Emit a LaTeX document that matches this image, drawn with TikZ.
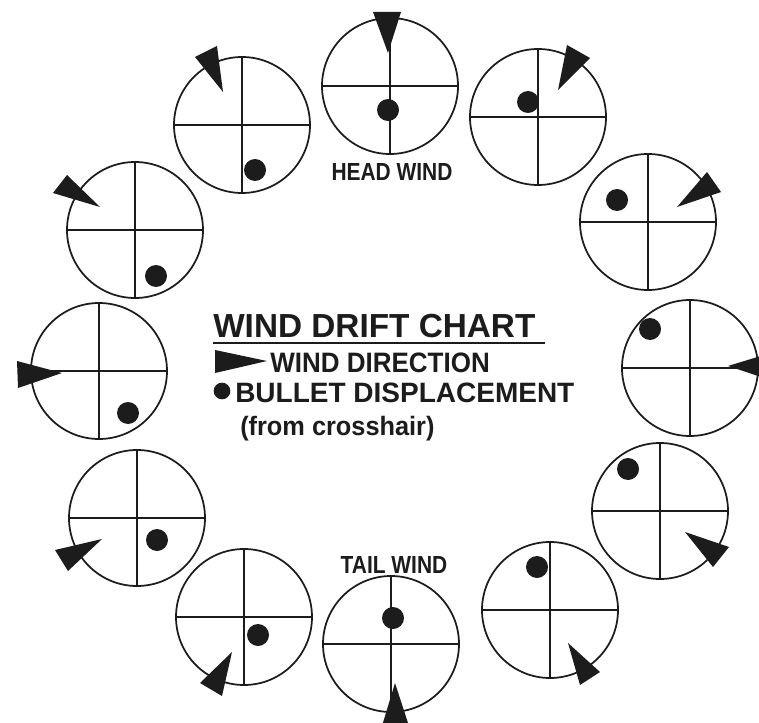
\documentclass[tikz,border=0pt]{standalone}
\usepackage{fontspec}
\setmainfont{Liberation Sans}
\usepackage{graphicx}
\definecolor{ink}{RGB}{28,28,28}
\newcommand\windscope[6]{%
  \node[scopering] (#1) at (#2) {};
  \draw[hair] (#1.north) -- (#1.south) (#1.west) -- (#1.east);
  \node[wdot] (#1-dot) at (#3) {};
  \coordinate (#1-tip) at (#4);
  \coordinate (#1-b1) at (#5);
  \coordinate (#1-b2) at (#6);
  \fill[ink] (#1-tip) -- (#1-b1) -- (#1-b2) -- cycle;
}
\begin{document}
\begin{tikzpicture}[x=0.75pt,y=-0.75pt,
  scopering/.style={circle, draw=ink, line width=1.3pt, minimum size=102pt, inner sep=0pt, outer sep=0pt},
  hair/.style={draw=ink, line width=1.3pt},
  wdot/.style={fill=ink, circle, inner sep=0pt, minimum size=16.5pt},
  lbl/.style={text=ink, inner sep=0pt}]
\useasboundingbox (0,0) rectangle (759,723);
\clip (0,0) rectangle (759,723);
\fill[white] (0,0) rectangle (759,723);

\windscope{sN}{390,86}{388,110}{388,53}{373,12}{401,12}
\windscope{sNNW}{242,125}{255,170}{223,92}{195,57}{217,46}
\windscope{sWNW}{135,230}{156,276}{100,207}{53,193}{67,175}
\windscope{sW}{99,371}{128,413}{62,373}{17,361}{18,388}
\windscope{sWSW}{137,518}{157,540}{102,539}{55,550}{68,571}
\windscope{sSSW}{244,617}{258,635}{232,652}{200,683}{222,696}
\windscope{sS}{391,644}{393,618}{395,683}{382,726}{409,726}
\windscope{sSSE}{550,610}{537,567}{568,643}{580,685}{600,672}
\windscope{sESE}{660,511}{628,469}{685,532}{729,547}{713,567}
\windscope{sE}{690,368}{650,329}{728,366}{764,355}{764,378}
\windscope{sENE}{648,222}{617,200}{677,207}{707,172}{721,192}
\windscope{sNNE}{538,117}{528,102}{558,90}{567,45}{590,58}

% labels
\node[lbl, anchor=base] (head) at (392,181) {\scalebox{1}[1.18]{\fontsize{15.7pt}{18pt}\bfseries HEAD WIND}};
\node[lbl, anchor=base] (tail) at (394,573) {\scalebox{1}[1.18]{\fontsize{15.7pt}{18pt}\bfseries TAIL WIND}};

\node[lbl, anchor=base west] (title) at (213,337) {\fontsize{25pt}{28pt}\bfseries WIND DRIFT CHART};
\coordinate (ul1) at (213,343);
\coordinate (ul2) at (545,343);
\draw[ink, line width=1.5pt] (ul1) -- (ul2);

\coordinate (lt-tip) at (267,361);
\coordinate (lt-b1) at (215,350);
\coordinate (lt-b2) at (215,373);
\fill[ink] (lt-tip) -- (lt-b1) -- (lt-b2) -- cycle;
\node[lbl, anchor=base west] (wdir) at (270,372) {\scalebox{1}[1.08]{\fontsize{19.5pt}{22pt}\bfseries WIND DIRECTION}};

\node[wdot, minimum size=12.5pt] (ldot) at (222,391) {};
\node[lbl, anchor=base west] (bdisp) at (235,402) {\fontsize{21pt}{24pt}\bfseries BULLET DISPLACEMENT};
\node[lbl, anchor=base west] (from) at (240,435) {\scalebox{1}[1.05]{\fontsize{19pt}{22pt}\bfseries (from crosshair)}};
\end{tikzpicture}
\end{document}
